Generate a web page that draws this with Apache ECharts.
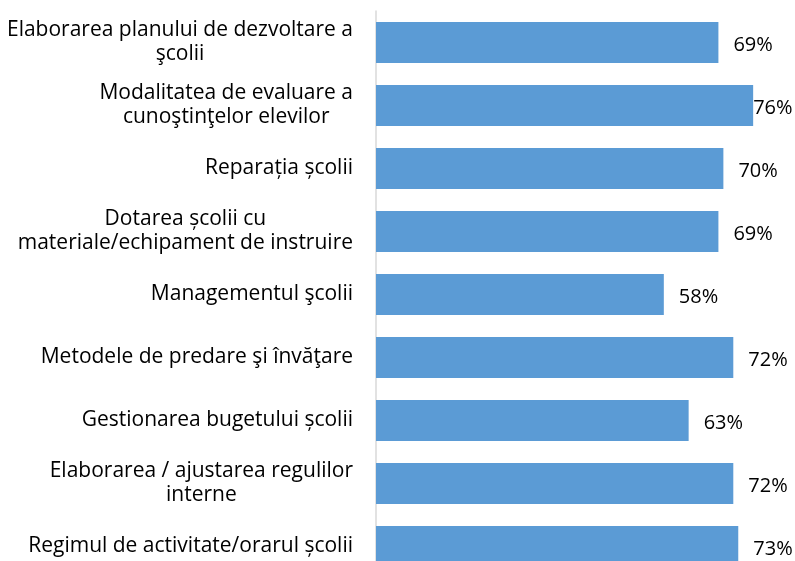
<!DOCTYPE html>
<html>
<head>
<meta charset="utf-8">
<script src="https://cdn.jsdelivr.net/npm/echarts@6/dist/echarts.min.js"></script>
<style>
  html, body { margin: 0; padding: 0; background: #fff; overflow: hidden; }
  /* mai inalt decat fereastra: ultima bara e taiata jos, ca in original */
  #chart { width: 795px; height: 580px; }
</style>
</head>
<body>
<div id="chart"></div>
<script>
// categorii (de sus in jos), cu ruperea randului ca in original
const categories = [
  'Elaborarea planului de dezvoltare a\nşcolii',
  'Modalitatea de evaluare a\ncunoştinţelor elevilor',
  'Reparația școlii',
  'Dotarea școlii cu\nmateriale/echipament de instruire',
  'Managementul şcolii',
  'Metodele de predare şi învăţare',
  'Gestionarea bugetului școlii',
  'Elaborarea / ajustarea regulilor\ninterne',
  'Regimul de activitate/orarul școlii'
]
const values = [69, 76, 70, 69, 58, 72, 63, 72, 73]

const font = 'Open Sans'
const labelSize = 21

// latimea fiecarei etichete, ca randurile sa fie centrate intre ele
let ctx = document.createElement('canvas').getContext('2d')
ctx.font = labelSize + 'px "' + font + '"'
let rich = {}
categories.forEach((c, i) => {
  rich['c' + i] = {
    width: Math.max(...c.split('\n').map(l => ctx.measureText(l).width)),
    align: 'center',
    fontFamily: font,
    fontSize: labelSize,
    lineHeight: 24,
    color: '#000'
  }
})

let myChart = echarts.init(document.getElementById('chart'))

myChart.setOption({
  backgroundColor: '#fff',
  animation: false,
  grid: {
    left: 376,
    top: 11,
    width: 397,
    height: 567
  },
  xAxis: {
    type: 'value',
    min: 0,
    max: 80,
    show: false
  },
  yAxis: {
    type: 'category',
    inverse: true,
    data: categories,
    axisLine: { show: true, lineStyle: { color: '#d9d9d9', width: 1.5 } },
    axisTick: { show: false },
    axisLabel: {
      margin: 23,
      align: 'right',
      formatter: (v, i) => v.split('\n').map(l => '{c' + i + '|' + l + '}').join('\n'),
      rich: rich
    }
  },
  series: [{
    type: 'bar',
    barWidth: 41,
    data: values.map(v => ({
      value: v,
      // eticheta de 76% e lipita de bara (nu incape in dreapta)
      label: { distance: v >= 75 ? 0 : 15 }
    })),
    itemStyle: { color: '#5b9bd5' },
    label: {
      show: true,
      position: 'right',
      offset: [0, 3],
      formatter: '{c}%',
      fontFamily: font,
      fontSize: 20,
      color: '#000'
    }
  }]
})
</script>
</body>
</html>
